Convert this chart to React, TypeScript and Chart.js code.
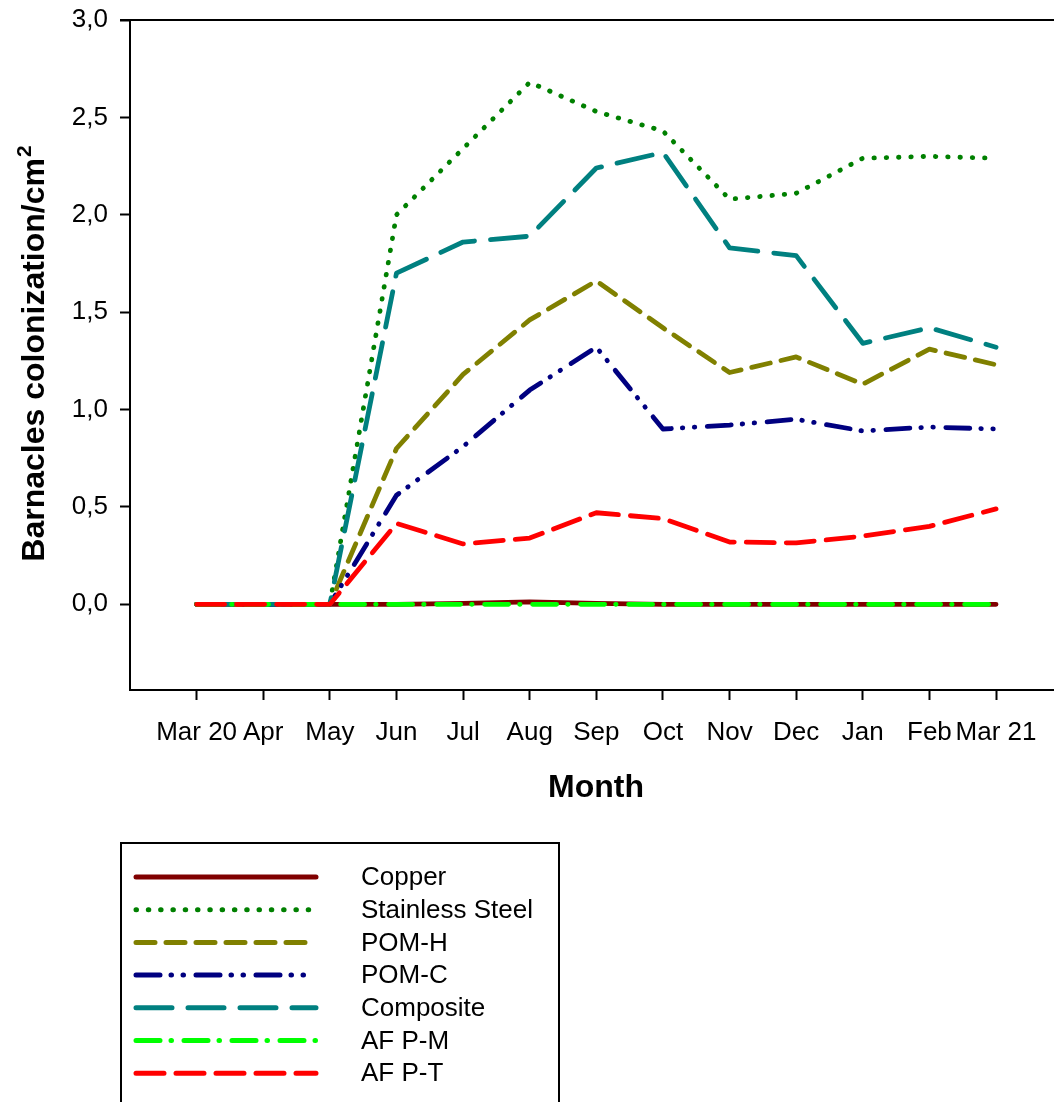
import { useEffect, useRef } from "react";
import { Chart, registerables } from "chart.js";

Chart.register(...registerables);

// Sampling months (x axis)
const months = ["Mar 20", "Apr", "May", "Jun", "Jul", "Aug", "Sep", "Oct", "Nov", "Dec", "Jan", "Feb", "Mar 21"];

// Barnacle colonization per cm² for each material
const copper = [0, 0, 0, 0, 0.005, 0.012, 0.005, 0, 0, 0, 0, 0, 0];
const stainlessSteel = [0, 0, 0, 2.0, 2.34, 2.68, 2.53, 2.43, 2.08, 2.11, 2.29, 2.3, 2.29];
const pomH = [0, 0, 0, 0.8, 1.18, 1.46, 1.66, 1.42, 1.19, 1.27, 1.13, 1.31, 1.23];
const pomC = [0, 0, 0, 0.56, 0.81, 1.1, 1.32, 0.9, 0.92, 0.95, 0.89, 0.91, 0.9];
const composite = [0, 0, 0, 1.7, 1.86, 1.89, 2.24, 2.32, 1.83, 1.79, 1.34, 1.42, 1.32];
const afPM = [0, 0, 0, 0, 0, 0, 0, 0, 0, 0, 0, 0, 0];
const afPT = [0, 0, 0, 0.415, 0.31, 0.34, 0.47, 0.44, 0.32, 0.315, 0.35, 0.4, 0.49];

const yTicks = [0, 0.5, 1, 1.5, 2, 2.5, 3];

const FONT = "'Liberation Sans', Arial, sans-serif";
const W = 1054;
const H = 1102;

type Series = {
  label: string;
  values: number[];
  color: string;
  dash: number[];
  order: number;
};

const series: Series[] = [
  { label: "Copper", values: copper, color: "#800000", dash: [], order: 6 },
  { label: "Stainless Steel", values: stainlessSteel, color: "#008000", dash: [0.5, 11.8], order: 5 },
  { label: "POM-H", values: pomH, color: "#808000", dash: [19, 11], order: 4 },
  { label: "POM-C", values: pomC, color: "#000080", dash: [24, 11, 0.5, 11.5, 0.5, 12.5], order: 3 },
  { label: "Composite", values: composite, color: "#008080", dash: [36, 16], order: 2 },
  { label: "AF P-M", values: afPM, color: "#00ff00", dash: [24, 11, 0.5, 12.5], order: 1 },
  { label: "AF P-T", values: afPT, color: "#ff0000", dash: [28, 12], order: 0 },
];

const LINE_W = 4.8;

const decorations = {
  id: "decorations",
  afterDraw(chart: any) {
    const { ctx, chartArea } = chart;
    ctx.save();

    // top frame line
    ctx.strokeStyle = "#000";
    ctx.lineWidth = 2;
    ctx.beginPath();
    ctx.moveTo(chartArea.left - 10, chartArea.top);
    ctx.lineTo(chartArea.right, chartArea.top);
    ctx.stroke();

    // y axis title with superscript
    const mainTxt = "Barnacles colonization/cm";
    ctx.fillStyle = "#000";
    ctx.font = `bold 32px ${FONT}`;
    const mainW = ctx.measureText(mainTxt).width;
    ctx.font = `bold 21px ${FONT}`;
    const supW = ctx.measureText("2").width;
    const total = mainW + supW;
    ctx.save();
    ctx.translate(44, 354);
    ctx.rotate(-Math.PI / 2);
    ctx.textBaseline = "alphabetic";
    ctx.textAlign = "left";
    ctx.font = `bold 32px ${FONT}`;
    ctx.fillText(mainTxt, -total / 2, 0);
    ctx.font = `bold 21px ${FONT}`;
    ctx.fillText("2", -total / 2 + mainW + 1, -13);
    ctx.restore();

    // x axis title
    ctx.font = `bold 32px ${FONT}`;
    ctx.textAlign = "center";
    ctx.textBaseline = "alphabetic";
    ctx.fillText("Month", 596, 797);

    // legend box
    ctx.lineWidth = 2;
    ctx.strokeStyle = "#000";
    ctx.strokeRect(121, 843, 438, 300);

    const rowY0 = 877;
    const rowStep = 32.7;
    series.forEach((s, i) => {
      const y = rowY0 + i * rowStep;
      ctx.save();
      ctx.strokeStyle = s.color;
      ctx.lineWidth = 5;
      ctx.lineCap = "round";
      ctx.setLineDash(s.dash);
      ctx.beginPath();
      ctx.moveTo(136, y);
      ctx.lineTo(316, y);
      ctx.stroke();
      ctx.restore();
      ctx.fillStyle = "#000";
      ctx.font = `26px ${FONT}`;
      ctx.textAlign = "left";
      ctx.textBaseline = "middle";
      ctx.fillText(s.label, 361, y + 1);
    });

    ctx.restore();
  },
};

export default function App() {
  const ref = useRef<HTMLCanvasElement | null>(null);

  useEffect(() => {
    const canvas = ref.current;
    if (!canvas) return;

    const datasets = series.map((s) => ({
      label: s.label,
      data: s.values.map((v, i) => ({ x: i, y: v })),
      borderColor: s.color,
      backgroundColor: s.color,
      borderWidth: LINE_W,
      borderDash: s.dash,
      borderCapStyle: "round" as const,
      borderJoinStyle: "round" as const,
      pointRadius: 0,
      tension: 0,
      fill: false,
      order: s.order,
    }));

    const chart = new Chart(canvas, {
      type: "line",
      data: { datasets },
      options: {
        animation: false,
        responsive: false,
        devicePixelRatio: 1,
        layout: { padding: { top: 20, left: 0, right: 0, bottom: 0 } },
        plugins: {
          legend: { display: false },
          tooltip: { enabled: false },
        },
        scales: {
          x: {
            type: "linear",
            min: -1,
            max: 12.87,
            afterBuildTicks: (scale: any) => {
              scale.ticks = months.map((_, i) => ({ value: i }));
            },
            afterFit: (scale: any) => {
              scale.height = H - 690;
              scale.paddingLeft = 0;
              scale.paddingRight = 0;
            },
            ticks: {
              autoSkip: false,
              maxRotation: 0,
              minRotation: 0,
              padding: 17,
              color: "#000",
              font: { family: FONT, size: 26 },
              callback: (v: any) => months[Math.round(Number(v))] ?? "",
            },
            grid: {
              drawOnChartArea: false,
              drawTicks: true,
              tickLength: 10,
              tickWidth: 2,
              tickColor: "#000",
              color: "#000",
            },
            border: { display: true, width: 2, color: "#000" },
          },
          y: {
            type: "linear",
            min: -0.44,
            max: 3.0,
            afterBuildTicks: (scale: any) => {
              scale.ticks = yTicks.map((v) => ({ value: v }));
            },
            afterFit: (scale: any) => {
              scale.width = 130;
              scale.paddingTop = 0;
              scale.paddingBottom = 0;
            },
            ticks: {
              padding: 12,
              color: "#000",
              font: { family: FONT, size: 26 },
              callback: (v: any) => Number(v).toFixed(1).replace(".", ","),
            },
            grid: {
              drawOnChartArea: false,
              drawTicks: true,
              tickLength: 10,
              tickWidth: 2,
              tickColor: "#000",
              color: "#000",
            },
            border: { display: true, width: 2, color: "#000" },
          },
        },
      },
      plugins: [decorations],
    });

    return () => chart.destroy();
  }, []);

  return (
    <div style={{ position: "absolute", left: 0, top: 0, width: W, height: H, background: "#fff" }}>
      <canvas ref={ref} width={W} height={H} style={{ width: W, height: H, display: "block" }} />
    </div>
  );
}
